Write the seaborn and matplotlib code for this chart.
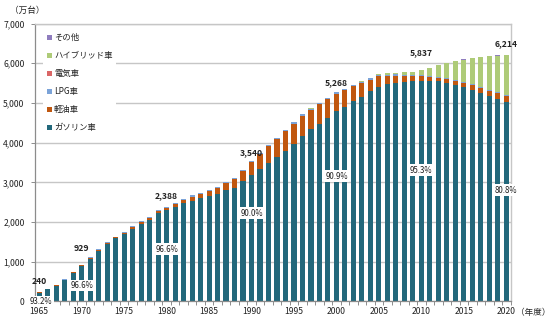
import matplotlib
matplotlib.use("Agg")
import matplotlib.pyplot as plt
from matplotlib.lines import Line2D
from matplotlib.ticker import FuncFormatter, FixedLocator, MultipleLocator
import pandas as pd
import seaborn as sns

# 乗用車保有台数（燃料別、万台）
years = list(range(1965, 2021))
gasoline = [223.7, 302, 400, 542, 718, 897.4, 1080, 1276, 1448, 1590,
            1711, 1835, 1955, 2059, 2226, 2306.8, 2391, 2473, 2543, 2601,
            2668, 2718, 2798, 2853, 3023, 3186, 3347, 3482, 3627, 3787,
            3962, 4162, 4331.5, 4467, 4612, 4788.6, 4899, 5043, 5160, 5290,
            5412, 5474, 5509, 5530.8, 5541.5, 5562.7, 5563, 5547, 5506, 5463,
            5405, 5337, 5254, 5169, 5103, 5020.9]
diesel = [6, 7, 8, 10, 12, 14, 16, 18, 20, 22,
          25, 30, 35, 40, 48, 55, 68, 85, 100, 112,
          125, 145, 180, 225, 270, 326, 360, 430, 465, 500,
          520, 520, 500, 508, 487, 446.4, 420, 372, 350, 300,
          255, 210, 180, 150, 125, 105, 95, 90, 90, 95,
          105, 118, 128, 138, 146, 152]
lpg = [10.3, 11, 12, 13, 15, 17.6, 19, 21, 22, 23,
       24, 25, 25, 26, 26, 26.2, 26, 27, 27, 27,
       27, 27, 27, 27, 27, 28, 28, 28, 28, 28,
       28, 28, 28, 28, 28, 28, 28, 28, 28, 28,
       28, 28, 28, 27, 26, 25, 24, 23, 22, 21,
       20, 19, 18, 17, 16, 15]
electric = [0] * 43 + [0.2, 0.5, 1, 2, 3, 5, 7, 8, 9, 10, 11, 12, 13]
hybrid = [0] * 32 + [0.5, 2, 3, 5, 8, 12, 17, 22, 30, 38, 48, 62, 95, 140,
                     187, 287, 386, 472, 554, 643, 745, 839, 906, 1000.1]
other = [0] * 44 + [2, 3.3, 4, 5, 6, 7, 8, 9, 10, 11, 12, 13]

label_years = [1965, 1970, 1980, 1990, 2000, 2010, 2020]

fuel_names = ["ガソリン車", "軽油車", "LPG車", "電気車", "ハイブリッド車", "その他"]
fuel_colors = ["#22687B", "#C0570F", "#7BA3D8", "#DA6666", "#AECB78", "#8F7DBE"]

series = dict(zip(fuel_names, [gasoline, diesel, lpg, electric, hybrid, other]))
wide = pd.DataFrame(series, index=years)
wide.index.name = "year"
totals = wide.sum(axis=1)
share = wide["ガソリン車"] / totals

long = wide.reset_index().melt(id_vars="year", var_name="fuel", value_name="value")

sns.set_style("white")
plt.rcParams["font.family"] = ["Noto Sans CJK JP", "DejaVu Sans"]
plt.rcParams["axes.unicode_minus"] = False

fig = plt.figure(figsize=(5.5, 3.23), dpi=100)
ax = fig.add_axes([0.0636, 0.0666, 0.8646, 0.8606])

stack_order = fuel_names[::-1]
palette = dict(zip(fuel_names, fuel_colors))
sns.histplot(data=long, x="year", weights="value", hue="fuel",
             hue_order=stack_order, palette=palette, multiple="stack",
             discrete=True, shrink=0.6, linewidth=0, alpha=1,
             legend=False, ax=ax, zorder=2)

ax.set_xlim(1964.5, 2020.5)
ax.set_ylim(0, 7000)
ax.set_xlabel("")
ax.set_ylabel("")

# axes, grid and ticks
grid_c = "#C6C6C6"
ax.yaxis.set_major_locator(MultipleLocator(1000))
ax.yaxis.set_major_formatter(FuncFormatter(lambda v, p: f"{v:,.0f}"))
ax.grid(axis="y", color=grid_c, linewidth=1.0, zorder=0)
ax.set_axisbelow(True)
ax.xaxis.set_major_locator(FixedLocator(list(range(1965, 2021, 5))))
ax.xaxis.set_minor_locator(FixedLocator([y + 0.5 for y in range(1964, 2021)]))
ax.tick_params(axis="x", which="major", length=0, pad=4, labelsize=6.2,
               labelcolor="#222222")
ax.tick_params(axis="x", which="minor", length=3, width=0.7, color="#8C8C8C",
               direction="out", bottom=True)
ax.tick_params(axis="y", which="major", length=3, width=0.7, color="#8C8C8C",
               direction="out", left=True, pad=4.5, labelsize=6.2,
               labelcolor="#222222")
for side in ["left", "bottom"]:
    ax.spines[side].set_color("#8C8C8C")
    ax.spines[side].set_linewidth(0.9)
for side in ["top", "right"]:
    ax.spines[side].set_color(grid_c)
    ax.spines[side].set_linewidth(1.0)

# totals above selected bars
total_lift = [10, 16, 11, 8.5, 10, 17.5, 10.8]
for yr, lift in zip(label_years, total_lift):
    ax.annotate(f"{totals[yr]:,.0f}", xy=(yr, totals[yr]),
                xytext=(0, lift * 0.72), textcoords="offset points",
                ha="center", va="center", fontsize=6.2, fontweight="bold",
                color="#222222", zorder=5)

# gasoline share labels
share_label_x = [1965.25, 1970, 1980, 1990, 2000, 2010, 2020]
share_label_y = [0, 410, 1320, 2225, 3156, 3307, 2804]
for yr, xpos, ypos in zip(label_years, share_label_x, share_label_y):
    ax.text(xpos, ypos, f"{share[yr] * 100:.1f}%", ha="center", va="center",
            fontsize=5.7, color="#222222", zorder=6, clip_on=False,
            bbox=dict(boxstyle="square,pad=0.15", facecolor="white",
                      edgecolor="none"))

# legend, top entry first
handles = [Line2D([], [], marker="s", linestyle="none", markersize=3.6,
                  markerfacecolor=c, markeredgewidth=0, color=c)
           for c in fuel_colors[::-1]]
leg = ax.legend(handles, fuel_names[::-1], loc="upper left",
                bbox_to_anchor=(0.013, 0.983), frameon=True, fontsize=6,
                labelspacing=1.07, handlelength=0.7, handletextpad=0.25,
                borderpad=0.4, borderaxespad=0.2)
leg.get_frame().set_facecolor("white")
leg.get_frame().set_edgecolor("none")
leg.get_frame().set_alpha(1)
for t in leg.get_texts():
    t.set_color("#222222")

fig.text(0.049, 0.969, "（万台）", ha="center", va="center", fontsize=6.2,
         color="#222222")
fig.text(0.969, 0.034, "（年度）", ha="center", va="center", fontsize=6.2,
         color="#222222")

fig.savefig("out.png", dpi=100)
